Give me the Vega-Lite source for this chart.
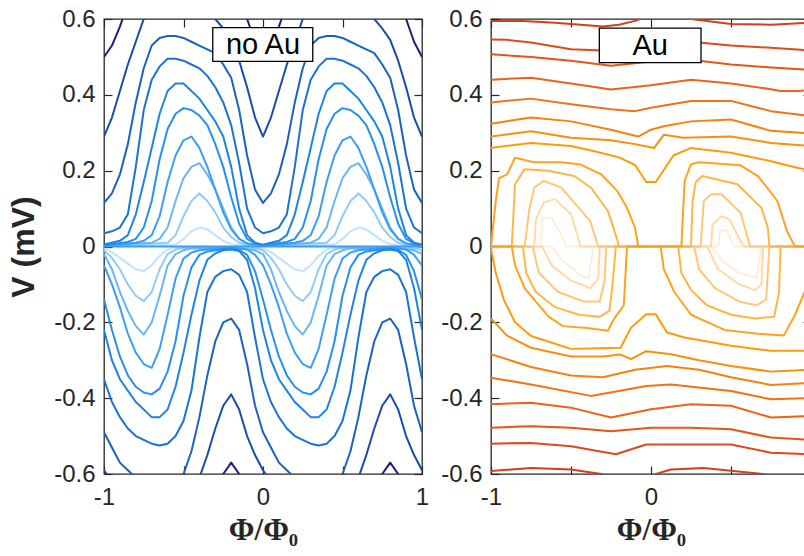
{
"$schema":"https://vega.github.io/schema/vega-lite/v6.json",
"background":"white",
"padding":{"left":6,"top":6,"right":0,"bottom":0},
"config":{"view":{"stroke":"#262626","strokeWidth":1.3},
"axis":{"grid":false,"domain":false,"labelFont":"Liberation Sans","labelFontSize":24,"labelColor":"#262626","tickColor":"#262626","tickSize":-8,"tickWidth":1.2,"titleFont":"Liberation Sans","titleFontWeight":"bold","titleColor":"#262626","labelFlush":false},
"axisX":{"labelPadding":19},"axisY":{"labelPadding":17}},
"datasets":{
"n":[
{"c":"J","x":-1,"y":0.001},{"c":"J","x":-0.55,"y":0.005},{"c":"J","x":-0.5,"y":0.02},{"c":"J","x":-0.45,"y":0.04},{"c":"J","x":-0.4,"y":0.05},{"c":"J","x":-0.35,"y":0.045},{"c":"J","x":-0.3,"y":0.03},{"c":"J","x":-0.25,"y":0.015},{"c":"J","x":-0.2,"y":0.006},{"c":"J","x":-0.15,"y":0.003},{"c":"J","x":0,"y":0.001},{"c":"J","x":0.45,"y":0.005},{"c":"J","x":0.5,"y":0.02},{"c":"J","x":0.55,"y":0.04},{"c":"J","x":0.6,"y":0.05},{"c":"J","x":0.65,"y":0.045},{"c":"J","x":0.7,"y":0.03},{"c":"J","x":0.75,"y":0.015},{"c":"J","x":0.8,"y":0.006},{"c":"J","x":0.85,"y":0.003},{"c":"J","x":1,"y":0.001},
{"c":"J2","x":-1,"y":-0.005},{"c":"J2","x":-0.95,"y":-0.015},{"c":"J2","x":-0.9,"y":-0.03},{"c":"J2","x":-0.85,"y":-0.045},{"c":"J2","x":-0.8,"y":-0.06},{"c":"J2","x":-0.75,"y":-0.065},{"c":"J2","x":-0.7,"y":-0.05},{"c":"J2","x":-0.65,"y":-0.025},{"c":"J2","x":-0.6,"y":-0.008},{"c":"J2","x":-0.55,"y":-0.003},{"c":"J2","x":-0.05,"y":-0.003},{"c":"J2","x":0,"y":-0.005},{"c":"J2","x":0.05,"y":-0.015},{"c":"J2","x":0.1,"y":-0.03},{"c":"J2","x":0.15,"y":-0.045},{"c":"J2","x":0.2,"y":-0.06},{"c":"J2","x":0.25,"y":-0.065},{"c":"J2","x":0.3,"y":-0.05},{"c":"J2","x":0.35,"y":-0.025},{"c":"J2","x":0.4,"y":-0.008},{"c":"J2","x":0.45,"y":-0.003},{"c":"J2","x":0.95,"y":-0.003},{"c":"J2","x":1,"y":-0.005},
{"c":"I","x":-1,"y":0.001},{"c":"I","x":-0.6,"y":0.01},{"c":"I","x":-0.55,"y":0.03},{"c":"I","x":-0.5,"y":0.08},{"c":"I","x":-0.45,"y":0.12},{"c":"I","x":-0.4,"y":0.14},{"c":"I","x":-0.35,"y":0.12},{"c":"I","x":-0.3,"y":0.09},{"c":"I","x":-0.25,"y":0.05},{"c":"I","x":-0.2,"y":0.025},{"c":"I","x":-0.15,"y":0.01},{"c":"I","x":-0.1,"y":0.004},{"c":"I","x":0,"y":0.001},{"c":"I","x":0.4,"y":0.01},{"c":"I","x":0.45,"y":0.03},{"c":"I","x":0.5,"y":0.08},{"c":"I","x":0.55,"y":0.12},{"c":"I","x":0.6,"y":0.14},{"c":"I","x":0.65,"y":0.12},{"c":"I","x":0.7,"y":0.09},{"c":"I","x":0.75,"y":0.05},{"c":"I","x":0.8,"y":0.025},{"c":"I","x":0.85,"y":0.01},{"c":"I","x":0.9,"y":0.004},{"c":"I","x":1,"y":0.001},
{"c":"I2","x":-1,"y":-0.01},{"c":"I2","x":-0.95,"y":-0.03},{"c":"I2","x":-0.9,"y":-0.06},{"c":"I2","x":-0.85,"y":-0.1},{"c":"I2","x":-0.8,"y":-0.13},{"c":"I2","x":-0.75,"y":-0.144},{"c":"I2","x":-0.7,"y":-0.12},{"c":"I2","x":-0.65,"y":-0.06},{"c":"I2","x":-0.6,"y":-0.02},{"c":"I2","x":-0.55,"y":-0.008},{"c":"I2","x":-0.5,"y":-0.004},{"c":"I2","x":-0.05,"y":-0.005},{"c":"I2","x":0,"y":-0.01},{"c":"I2","x":0.05,"y":-0.03},{"c":"I2","x":0.1,"y":-0.06},{"c":"I2","x":0.15,"y":-0.1},{"c":"I2","x":0.2,"y":-0.13},{"c":"I2","x":0.25,"y":-0.144},{"c":"I2","x":0.3,"y":-0.12},{"c":"I2","x":0.35,"y":-0.06},{"c":"I2","x":0.4,"y":-0.02},{"c":"I2","x":0.45,"y":-0.008},{"c":"I2","x":0.5,"y":-0.004},{"c":"I2","x":0.95,"y":-0.005},{"c":"I2","x":1,"y":-0.01},
{"c":"H","x":-1,"y":0.002},{"c":"H","x":-0.7,"y":0.01},{"c":"H","x":-0.65,"y":0.02},{"c":"H","x":-0.6,"y":0.05},{"c":"H","x":-0.55,"y":0.12},{"c":"H","x":-0.5,"y":0.18},{"c":"H","x":-0.45,"y":0.21},{"c":"H","x":-0.4,"y":0.22},{"c":"H","x":-0.35,"y":0.19},{"c":"H","x":-0.3,"y":0.15},{"c":"H","x":-0.25,"y":0.1},{"c":"H","x":-0.2,"y":0.05},{"c":"H","x":-0.15,"y":0.02},{"c":"H","x":-0.1,"y":0.008},{"c":"H","x":0,"y":0.002},{"c":"H","x":0.3,"y":0.01},{"c":"H","x":0.35,"y":0.02},{"c":"H","x":0.4,"y":0.05},{"c":"H","x":0.45,"y":0.12},{"c":"H","x":0.5,"y":0.18},{"c":"H","x":0.55,"y":0.21},{"c":"H","x":0.6,"y":0.22},{"c":"H","x":0.65,"y":0.19},{"c":"H","x":0.7,"y":0.15},{"c":"H","x":0.75,"y":0.1},{"c":"H","x":0.8,"y":0.05},{"c":"H","x":0.85,"y":0.02},{"c":"H","x":0.9,"y":0.008},{"c":"H","x":1,"y":0.002},
{"c":"H2","x":-1,"y":-0.02},{"c":"H2","x":-0.95,"y":-0.06},{"c":"H2","x":-0.9,"y":-0.12},{"c":"H2","x":-0.85,"y":-0.17},{"c":"H2","x":-0.8,"y":-0.21},{"c":"H2","x":-0.75,"y":-0.232},{"c":"H2","x":-0.7,"y":-0.2},{"c":"H2","x":-0.65,"y":-0.13},{"c":"H2","x":-0.6,"y":-0.05},{"c":"H2","x":-0.55,"y":-0.02},{"c":"H2","x":-0.5,"y":-0.01},{"c":"H2","x":-0.45,"y":-0.005},{"c":"H2","x":-0.2,"y":-0.003},{"c":"H2","x":-0.05,"y":-0.01},{"c":"H2","x":0,"y":-0.02},{"c":"H2","x":0.05,"y":-0.06},{"c":"H2","x":0.1,"y":-0.12},{"c":"H2","x":0.15,"y":-0.17},{"c":"H2","x":0.2,"y":-0.21},{"c":"H2","x":0.25,"y":-0.232},{"c":"H2","x":0.3,"y":-0.2},{"c":"H2","x":0.35,"y":-0.13},{"c":"H2","x":0.4,"y":-0.05},{"c":"H2","x":0.45,"y":-0.02},{"c":"H2","x":0.5,"y":-0.01},{"c":"H2","x":0.55,"y":-0.005},{"c":"H2","x":0.8,"y":-0.003},{"c":"H2","x":0.95,"y":-0.01},{"c":"H2","x":1,"y":-0.02},
{"c":"G","x":-1,"y":0.002},{"c":"G","x":-0.8,"y":0.01},{"c":"G","x":-0.75,"y":0.015},{"c":"G","x":-0.7,"y":0.03},{"c":"G","x":-0.65,"y":0.08},{"c":"G","x":-0.6,"y":0.17},{"c":"G","x":-0.55,"y":0.24},{"c":"G","x":-0.5,"y":0.28},{"c":"G","x":-0.45,"y":0.29},{"c":"G","x":-0.4,"y":0.26},{"c":"G","x":-0.35,"y":0.21},{"c":"G","x":-0.3,"y":0.15},{"c":"G","x":-0.25,"y":0.09},{"c":"G","x":-0.2,"y":0.045},{"c":"G","x":-0.15,"y":0.02},{"c":"G","x":-0.1,"y":0.008},{"c":"G","x":0,"y":0.002},{"c":"G","x":0.2,"y":0.01},{"c":"G","x":0.25,"y":0.015},{"c":"G","x":0.3,"y":0.03},{"c":"G","x":0.35,"y":0.08},{"c":"G","x":0.4,"y":0.17},{"c":"G","x":0.45,"y":0.24},{"c":"G","x":0.5,"y":0.28},{"c":"G","x":0.55,"y":0.29},{"c":"G","x":0.6,"y":0.26},{"c":"G","x":0.65,"y":0.21},{"c":"G","x":0.7,"y":0.15},{"c":"G","x":0.75,"y":0.09},{"c":"G","x":0.8,"y":0.045},{"c":"G","x":0.85,"y":0.02},{"c":"G","x":0.9,"y":0.008},{"c":"G","x":1,"y":0.002},
{"c":"G2","x":-1,"y":-0.05},{"c":"G2","x":-0.95,"y":-0.1},{"c":"G2","x":-0.9,"y":-0.16},{"c":"G2","x":-0.85,"y":-0.23},{"c":"G2","x":-0.8,"y":-0.28},{"c":"G2","x":-0.75,"y":-0.31},{"c":"G2","x":-0.7,"y":-0.32},{"c":"G2","x":-0.65,"y":-0.27},{"c":"G2","x":-0.6,"y":-0.18},{"c":"G2","x":-0.55,"y":-0.085},{"c":"G2","x":-0.5,"y":-0.032},{"c":"G2","x":-0.45,"y":-0.016},{"c":"G2","x":-0.4,"y":-0.01},{"c":"G2","x":-0.2,"y":-0.002},{"c":"G2","x":-0.1,"y":-0.008},{"c":"G2","x":-0.05,"y":-0.022},{"c":"G2","x":0,"y":-0.05},{"c":"G2","x":0.05,"y":-0.1},{"c":"G2","x":0.1,"y":-0.16},{"c":"G2","x":0.15,"y":-0.23},{"c":"G2","x":0.2,"y":-0.28},{"c":"G2","x":0.25,"y":-0.31},{"c":"G2","x":0.3,"y":-0.32},{"c":"G2","x":0.35,"y":-0.27},{"c":"G2","x":0.4,"y":-0.18},{"c":"G2","x":0.45,"y":-0.085},{"c":"G2","x":0.5,"y":-0.032},{"c":"G2","x":0.55,"y":-0.016},{"c":"G2","x":0.6,"y":-0.01},{"c":"G2","x":0.8,"y":-0.002},{"c":"G2","x":0.9,"y":-0.008},{"c":"G2","x":0.95,"y":-0.022},{"c":"G2","x":1,"y":-0.05},
{"c":"F","x":-1,"y":0.003},{"c":"F","x":-0.85,"y":0.012},{"c":"F","x":-0.8,"y":0.02},{"c":"F","x":-0.75,"y":0.05},{"c":"F","x":-0.7,"y":0.12},{"c":"F","x":-0.65,"y":0.23},{"c":"F","x":-0.6,"y":0.31},{"c":"F","x":-0.55,"y":0.35},{"c":"F","x":-0.5,"y":0.365},{"c":"F","x":-0.45,"y":0.36},{"c":"F","x":-0.4,"y":0.345},{"c":"F","x":-0.35,"y":0.32},{"c":"F","x":-0.3,"y":0.27},{"c":"F","x":-0.25,"y":0.21},{"c":"F","x":-0.2,"y":0.13},{"c":"F","x":-0.15,"y":0.06},{"c":"F","x":-0.1,"y":0.02},{"c":"F","x":-0.05,"y":0.008},{"c":"F","x":0,"y":0.003},{"c":"F","x":0.15,"y":0.012},{"c":"F","x":0.2,"y":0.02},{"c":"F","x":0.25,"y":0.05},{"c":"F","x":0.3,"y":0.12},{"c":"F","x":0.35,"y":0.23},{"c":"F","x":0.4,"y":0.31},{"c":"F","x":0.45,"y":0.35},{"c":"F","x":0.5,"y":0.365},{"c":"F","x":0.55,"y":0.36},{"c":"F","x":0.6,"y":0.345},{"c":"F","x":0.65,"y":0.32},{"c":"F","x":0.7,"y":0.27},{"c":"F","x":0.75,"y":0.21},{"c":"F","x":0.8,"y":0.13},{"c":"F","x":0.85,"y":0.06},{"c":"F","x":0.9,"y":0.02},{"c":"F","x":0.95,"y":0.008},{"c":"F","x":1,"y":0.003},
{"c":"F2","x":-1,"y":-0.14},{"c":"F2","x":-0.95,"y":-0.22},{"c":"F2","x":-0.9,"y":-0.29},{"c":"F2","x":-0.85,"y":-0.34},{"c":"F2","x":-0.8,"y":-0.37},{"c":"F2","x":-0.75,"y":-0.385},{"c":"F2","x":-0.7,"y":-0.39},{"c":"F2","x":-0.65,"y":-0.375},{"c":"F2","x":-0.6,"y":-0.33},{"c":"F2","x":-0.55,"y":-0.25},{"c":"F2","x":-0.5,"y":-0.13},{"c":"F2","x":-0.45,"y":-0.055},{"c":"F2","x":-0.4,"y":-0.022},{"c":"F2","x":-0.35,"y":-0.013},{"c":"F2","x":-0.2,"y":-0.004},{"c":"F2","x":-0.15,"y":-0.009},{"c":"F2","x":-0.1,"y":-0.022},{"c":"F2","x":-0.05,"y":-0.065},{"c":"F2","x":0,"y":-0.14},{"c":"F2","x":0.05,"y":-0.22},{"c":"F2","x":0.1,"y":-0.29},{"c":"F2","x":0.15,"y":-0.34},{"c":"F2","x":0.2,"y":-0.37},{"c":"F2","x":0.25,"y":-0.385},{"c":"F2","x":0.3,"y":-0.39},{"c":"F2","x":0.35,"y":-0.375},{"c":"F2","x":0.4,"y":-0.33},{"c":"F2","x":0.45,"y":-0.25},{"c":"F2","x":0.5,"y":-0.13},{"c":"F2","x":0.55,"y":-0.055},{"c":"F2","x":0.6,"y":-0.022},{"c":"F2","x":0.65,"y":-0.013},{"c":"F2","x":0.8,"y":-0.004},{"c":"F2","x":0.85,"y":-0.009},{"c":"F2","x":0.9,"y":-0.022},{"c":"F2","x":0.95,"y":-0.065},{"c":"F2","x":1,"y":-0.14},
{"c":"E","x":-1,"y":0.005},{"c":"E","x":-0.9,"y":0.015},{"c":"E","x":-0.85,"y":0.03},{"c":"E","x":-0.8,"y":0.085},{"c":"E","x":-0.75,"y":0.17},{"c":"E","x":-0.7,"y":0.26},{"c":"E","x":-0.65,"y":0.35},{"c":"E","x":-0.6,"y":0.41},{"c":"E","x":-0.55,"y":0.43},{"c":"E","x":-0.5,"y":0.43},{"c":"E","x":-0.45,"y":0.41},{"c":"E","x":-0.4,"y":0.39},{"c":"E","x":-0.35,"y":0.36},{"c":"E","x":-0.3,"y":0.33},{"c":"E","x":-0.25,"y":0.29},{"c":"E","x":-0.2,"y":0.21},{"c":"E","x":-0.15,"y":0.1},{"c":"E","x":-0.1,"y":0.03},{"c":"E","x":-0.05,"y":0.01},{"c":"E","x":0,"y":0.005},{"c":"E","x":0.1,"y":0.015},{"c":"E","x":0.15,"y":0.03},{"c":"E","x":0.2,"y":0.085},{"c":"E","x":0.25,"y":0.17},{"c":"E","x":0.3,"y":0.26},{"c":"E","x":0.35,"y":0.35},{"c":"E","x":0.4,"y":0.41},{"c":"E","x":0.45,"y":0.43},{"c":"E","x":0.5,"y":0.43},{"c":"E","x":0.55,"y":0.41},{"c":"E","x":0.6,"y":0.39},{"c":"E","x":0.65,"y":0.36},{"c":"E","x":0.7,"y":0.33},{"c":"E","x":0.75,"y":0.29},{"c":"E","x":0.8,"y":0.21},{"c":"E","x":0.85,"y":0.1},{"c":"E","x":0.9,"y":0.03},{"c":"E","x":0.95,"y":0.01},{"c":"E","x":1,"y":0.005},
{"c":"E2","x":-1,"y":-0.22},{"c":"E2","x":-0.95,"y":-0.3},{"c":"E2","x":-0.9,"y":-0.35},{"c":"E2","x":-0.85,"y":-0.38},{"c":"E2","x":-0.8,"y":-0.41},{"c":"E2","x":-0.75,"y":-0.43},{"c":"E2","x":-0.7,"y":-0.45},{"c":"E2","x":-0.65,"y":-0.45},{"c":"E2","x":-0.6,"y":-0.43},{"c":"E2","x":-0.55,"y":-0.37},{"c":"E2","x":-0.5,"y":-0.28},{"c":"E2","x":-0.45,"y":-0.18},{"c":"E2","x":-0.4,"y":-0.09},{"c":"E2","x":-0.35,"y":-0.035},{"c":"E2","x":-0.3,"y":-0.018},{"c":"E2","x":-0.25,"y":-0.01},{"c":"E2","x":-0.2,"y":-0.008},{"c":"E2","x":-0.15,"y":-0.012},{"c":"E2","x":-0.1,"y":-0.035},{"c":"E2","x":-0.05,"y":-0.11},{"c":"E2","x":0,"y":-0.22},{"c":"E2","x":0.05,"y":-0.3},{"c":"E2","x":0.1,"y":-0.35},{"c":"E2","x":0.15,"y":-0.38},{"c":"E2","x":0.2,"y":-0.41},{"c":"E2","x":0.25,"y":-0.43},{"c":"E2","x":0.3,"y":-0.45},{"c":"E2","x":0.35,"y":-0.45},{"c":"E2","x":0.4,"y":-0.43},{"c":"E2","x":0.45,"y":-0.37},{"c":"E2","x":0.5,"y":-0.28},{"c":"E2","x":0.55,"y":-0.18},{"c":"E2","x":0.6,"y":-0.09},{"c":"E2","x":0.65,"y":-0.035},{"c":"E2","x":0.7,"y":-0.018},{"c":"E2","x":0.75,"y":-0.01},{"c":"E2","x":0.8,"y":-0.008},{"c":"E2","x":0.85,"y":-0.012},{"c":"E2","x":0.9,"y":-0.035},{"c":"E2","x":0.95,"y":-0.11},{"c":"E2","x":1,"y":-0.22},
{"c":"D","x":-1,"y":0.035},{"c":"D","x":-0.95,"y":0.04},{"c":"D","x":-0.9,"y":0.05},{"c":"D","x":-0.85,"y":0.085},{"c":"D","x":-0.8,"y":0.21},{"c":"D","x":-0.75,"y":0.36},{"c":"D","x":-0.7,"y":0.44},{"c":"D","x":-0.65,"y":0.475},{"c":"D","x":-0.6,"y":0.495},{"c":"D","x":-0.55,"y":0.495},{"c":"D","x":-0.5,"y":0.49},{"c":"D","x":-0.45,"y":0.48},{"c":"D","x":-0.4,"y":0.47},{"c":"D","x":-0.35,"y":0.45},{"c":"D","x":-0.3,"y":0.42},{"c":"D","x":-0.25,"y":0.38},{"c":"D","x":-0.2,"y":0.32},{"c":"D","x":-0.15,"y":0.22},{"c":"D","x":-0.1,"y":0.1},{"c":"D","x":-0.05,"y":0.05},{"c":"D","x":0,"y":0.035},{"c":"D","x":0.05,"y":0.04},{"c":"D","x":0.1,"y":0.05},{"c":"D","x":0.15,"y":0.085},{"c":"D","x":0.2,"y":0.21},{"c":"D","x":0.25,"y":0.36},{"c":"D","x":0.3,"y":0.44},{"c":"D","x":0.35,"y":0.475},{"c":"D","x":0.4,"y":0.495},{"c":"D","x":0.45,"y":0.495},{"c":"D","x":0.5,"y":0.49},{"c":"D","x":0.55,"y":0.48},{"c":"D","x":0.6,"y":0.47},{"c":"D","x":0.65,"y":0.45},{"c":"D","x":0.7,"y":0.42},{"c":"D","x":0.75,"y":0.38},{"c":"D","x":0.8,"y":0.32},{"c":"D","x":0.85,"y":0.22},{"c":"D","x":0.9,"y":0.1},{"c":"D","x":0.95,"y":0.05},{"c":"D","x":1,"y":0.035},
{"c":"D2","x":-1,"y":-0.35},{"c":"D2","x":-0.95,"y":-0.41},{"c":"D2","x":-0.9,"y":-0.45},{"c":"D2","x":-0.85,"y":-0.48},{"c":"D2","x":-0.8,"y":-0.5},{"c":"D2","x":-0.75,"y":-0.51},{"c":"D2","x":-0.7,"y":-0.52},{"c":"D2","x":-0.65,"y":-0.525},{"c":"D2","x":-0.6,"y":-0.52},{"c":"D2","x":-0.55,"y":-0.5},{"c":"D2","x":-0.5,"y":-0.46},{"c":"D2","x":-0.45,"y":-0.38},{"c":"D2","x":-0.4,"y":-0.24},{"c":"D2","x":-0.35,"y":-0.12},{"c":"D2","x":-0.3,"y":-0.08},{"c":"D2","x":-0.25,"y":-0.065},{"c":"D2","x":-0.2,"y":-0.06},{"c":"D2","x":-0.15,"y":-0.075},{"c":"D2","x":-0.1,"y":-0.12},{"c":"D2","x":-0.05,"y":-0.24},{"c":"D2","x":0,"y":-0.35},{"c":"D2","x":0.05,"y":-0.41},{"c":"D2","x":0.1,"y":-0.45},{"c":"D2","x":0.15,"y":-0.48},{"c":"D2","x":0.2,"y":-0.5},{"c":"D2","x":0.25,"y":-0.51},{"c":"D2","x":0.3,"y":-0.52},{"c":"D2","x":0.35,"y":-0.525},{"c":"D2","x":0.4,"y":-0.52},{"c":"D2","x":0.45,"y":-0.5},{"c":"D2","x":0.5,"y":-0.46},{"c":"D2","x":0.55,"y":-0.38},{"c":"D2","x":0.6,"y":-0.24},{"c":"D2","x":0.65,"y":-0.12},{"c":"D2","x":0.7,"y":-0.08},{"c":"D2","x":0.75,"y":-0.065},{"c":"D2","x":0.8,"y":-0.06},{"c":"D2","x":0.85,"y":-0.075},{"c":"D2","x":0.9,"y":-0.12},{"c":"D2","x":0.95,"y":-0.24},{"c":"D2","x":1,"y":-0.35},
{"c":"C","x":-1,"y":0.115},{"c":"C","x":-0.95,"y":0.14},{"c":"C","x":-0.9,"y":0.19},{"c":"C","x":-0.85,"y":0.27},{"c":"C","x":-0.8,"y":0.38},{"c":"C","x":-0.75,"y":0.47},{"c":"C","x":-0.7,"y":0.53},{"c":"C","x":-0.65,"y":0.55},{"c":"C","x":-0.6,"y":0.555},{"c":"C","x":-0.55,"y":0.555},{"c":"C","x":-0.5,"y":0.55},{"c":"C","x":-0.45,"y":0.54},{"c":"C","x":-0.4,"y":0.53},{"c":"C","x":-0.35,"y":0.52},{"c":"C","x":-0.3,"y":0.51},{"c":"C","x":-0.25,"y":0.48},{"c":"C","x":-0.2,"y":0.445},{"c":"C","x":-0.15,"y":0.36},{"c":"C","x":-0.1,"y":0.24},{"c":"C","x":-0.05,"y":0.15},{"c":"C","x":0,"y":0.115},{"c":"C","x":0.05,"y":0.14},{"c":"C","x":0.1,"y":0.19},{"c":"C","x":0.15,"y":0.27},{"c":"C","x":0.2,"y":0.38},{"c":"C","x":0.25,"y":0.47},{"c":"C","x":0.3,"y":0.53},{"c":"C","x":0.35,"y":0.55},{"c":"C","x":0.4,"y":0.555},{"c":"C","x":0.45,"y":0.555},{"c":"C","x":0.5,"y":0.55},{"c":"C","x":0.55,"y":0.54},{"c":"C","x":0.6,"y":0.53},{"c":"C","x":0.65,"y":0.52},{"c":"C","x":0.7,"y":0.51},{"c":"C","x":0.75,"y":0.48},{"c":"C","x":0.8,"y":0.445},{"c":"C","x":0.85,"y":0.36},{"c":"C","x":0.9,"y":0.24},{"c":"C","x":0.95,"y":0.15},{"c":"C","x":1,"y":0.115},
{"c":"C2","x":-1,"y":-0.49},{"c":"C2","x":-0.95,"y":-0.53},{"c":"C2","x":-0.9,"y":-0.57},{"c":"C2","x":-0.85,"y":-0.59},{"c":"C2","x":-0.8,"y":-0.61},{"c":"C2","x":-0.65,"y":-0.63},{"c":"C2","x":-0.5,"y":-0.6},{"c":"C2","x":-0.45,"y":-0.54},{"c":"C2","x":-0.4,"y":-0.45},{"c":"C2","x":-0.35,"y":-0.34},{"c":"C2","x":-0.3,"y":-0.25},{"c":"C2","x":-0.25,"y":-0.2},{"c":"C2","x":-0.2,"y":-0.19},{"c":"C2","x":-0.15,"y":-0.22},{"c":"C2","x":-0.1,"y":-0.31},{"c":"C2","x":-0.05,"y":-0.42},{"c":"C2","x":0,"y":-0.49},{"c":"C2","x":0.05,"y":-0.53},{"c":"C2","x":0.1,"y":-0.57},{"c":"C2","x":0.15,"y":-0.59},{"c":"C2","x":0.2,"y":-0.61},{"c":"C2","x":0.35,"y":-0.63},{"c":"C2","x":0.5,"y":-0.6},{"c":"C2","x":0.55,"y":-0.54},{"c":"C2","x":0.6,"y":-0.45},{"c":"C2","x":0.65,"y":-0.34},{"c":"C2","x":0.7,"y":-0.25},{"c":"C2","x":0.75,"y":-0.2},{"c":"C2","x":0.8,"y":-0.19},{"c":"C2","x":0.85,"y":-0.22},{"c":"C2","x":0.9,"y":-0.31},{"c":"C2","x":0.95,"y":-0.42},{"c":"C2","x":1,"y":-0.49},
{"c":"B","x":-1,"y":0.29},{"c":"B","x":-0.95,"y":0.34},{"c":"B","x":-0.9,"y":0.41},{"c":"B","x":-0.85,"y":0.48},{"c":"B","x":-0.8,"y":0.54},{"c":"B","x":-0.75,"y":0.6},{"c":"B","x":-0.7,"y":0.64},{"c":"B","x":-0.5,"y":0.67},{"c":"B","x":-0.35,"y":0.62},{"c":"B","x":-0.3,"y":0.6},{"c":"B","x":-0.25,"y":0.575},{"c":"B","x":-0.2,"y":0.545},{"c":"B","x":-0.15,"y":0.49},{"c":"B","x":-0.1,"y":0.42},{"c":"B","x":-0.05,"y":0.34},{"c":"B","x":0,"y":0.29},{"c":"B","x":0.05,"y":0.34},{"c":"B","x":0.1,"y":0.41},{"c":"B","x":0.15,"y":0.48},{"c":"B","x":0.2,"y":0.54},{"c":"B","x":0.25,"y":0.6},{"c":"B","x":0.3,"y":0.64},{"c":"B","x":0.5,"y":0.67},{"c":"B","x":0.65,"y":0.62},{"c":"B","x":0.7,"y":0.6},{"c":"B","x":0.75,"y":0.575},{"c":"B","x":0.8,"y":0.545},{"c":"B","x":0.85,"y":0.49},{"c":"B","x":0.9,"y":0.42},{"c":"B","x":0.95,"y":0.34},{"c":"B","x":1,"y":0.29},
{"c":"B2","x":-1,"y":-0.59},{"c":"B2","x":-0.95,"y":-0.62},{"c":"B2","x":-0.9,"y":-0.65},{"c":"B2","x":-0.75,"y":-0.7},{"c":"B2","x":-0.45,"y":-0.66},{"c":"B2","x":-0.4,"y":-0.61},{"c":"B2","x":-0.35,"y":-0.55},{"c":"B2","x":-0.3,"y":-0.48},{"c":"B2","x":-0.25,"y":-0.42},{"c":"B2","x":-0.2,"y":-0.39},{"c":"B2","x":-0.15,"y":-0.43},{"c":"B2","x":-0.1,"y":-0.5},{"c":"B2","x":-0.05,"y":-0.55},{"c":"B2","x":0,"y":-0.59},{"c":"B2","x":0.05,"y":-0.62},{"c":"B2","x":0.1,"y":-0.65},{"c":"B2","x":0.25,"y":-0.7},{"c":"B2","x":0.55,"y":-0.66},{"c":"B2","x":0.6,"y":-0.61},{"c":"B2","x":0.65,"y":-0.55},{"c":"B2","x":0.7,"y":-0.48},{"c":"B2","x":0.75,"y":-0.42},{"c":"B2","x":0.8,"y":-0.39},{"c":"B2","x":0.85,"y":-0.43},{"c":"B2","x":0.9,"y":-0.5},{"c":"B2","x":0.95,"y":-0.55},{"c":"B2","x":1,"y":-0.59},
{"c":"A","x":-1,"y":0.5},{"c":"A","x":-0.95,"y":0.53},{"c":"A","x":-0.9,"y":0.58},{"c":"A","x":-0.85,"y":0.64},{"c":"A","x":-0.8,"y":0.7},{"c":"A","x":-0.5,"y":0.8},{"c":"A","x":-0.2,"y":0.68},{"c":"A","x":-0.15,"y":0.64},{"c":"A","x":-0.1,"y":0.6},{"c":"A","x":-0.05,"y":0.54},{"c":"A","x":0,"y":0.5},{"c":"A","x":0.05,"y":0.53},{"c":"A","x":0.1,"y":0.58},{"c":"A","x":0.15,"y":0.64},{"c":"A","x":0.2,"y":0.7},{"c":"A","x":0.5,"y":0.8},{"c":"A","x":0.8,"y":0.68},{"c":"A","x":0.85,"y":0.64},{"c":"A","x":0.9,"y":0.6},{"c":"A","x":0.95,"y":0.54},{"c":"A","x":1,"y":0.5},
{"c":"A2","x":-1,"y":-0.74},{"c":"A2","x":-0.95,"y":-0.78},{"c":"A2","x":-0.45,"y":-0.8},{"c":"A2","x":-0.4,"y":-0.76},{"c":"A2","x":-0.35,"y":-0.7},{"c":"A2","x":-0.3,"y":-0.64},{"c":"A2","x":-0.25,"y":-0.6},{"c":"A2","x":-0.2,"y":-0.57},{"c":"A2","x":-0.15,"y":-0.6},{"c":"A2","x":-0.1,"y":-0.65},{"c":"A2","x":-0.05,"y":-0.7},{"c":"A2","x":0,"y":-0.74},{"c":"A2","x":0.05,"y":-0.78},{"c":"A2","x":0.55,"y":-0.8},{"c":"A2","x":0.6,"y":-0.76},{"c":"A2","x":0.65,"y":-0.7},{"c":"A2","x":0.7,"y":-0.64},{"c":"A2","x":0.75,"y":-0.6},{"c":"A2","x":0.8,"y":-0.57},{"c":"A2","x":0.85,"y":-0.6},{"c":"A2","x":0.9,"y":-0.65},{"c":"A2","x":0.95,"y":-0.7},{"c":"A2","x":1,"y":-0.74},
{"c":"Z","x":-1,"y":0},{"c":"Z","x":1,"y":0}
],
"a":[
{"c":"r1","x":-1,"y":0.595},{"c":"r1","x":-0.8,"y":0.595},{"c":"r1","x":-0.6,"y":0.59},{"c":"r1","x":-0.5,"y":0.587},{"c":"r1","x":-0.3,"y":0.58},{"c":"r1","x":-0.2,"y":0.585},{"c":"r1","x":-0.1,"y":0.595},{"c":"r1","x":0,"y":0.61},{"c":"r1","x":0.1,"y":0.62},{"c":"r1","x":0.25,"y":0.6},{"c":"r1","x":0.5,"y":0.587},{"c":"r1","x":0.75,"y":0.585},{"c":"r1","x":1,"y":0.59},
{"c":"s1","x":-1,"y":-0.592},{"c":"s1","x":-0.75,"y":-0.584},{"c":"s1","x":-0.5,"y":-0.588},{"c":"s1","x":-0.31,"y":-0.6},{"c":"s1","x":-0.2,"y":-0.62},{"c":"s1","x":-0.05,"y":-0.62},{"c":"s1","x":0.03,"y":-0.6},{"c":"s1","x":0.125,"y":-0.588},{"c":"s1","x":0.33,"y":-0.584},{"c":"s1","x":0.7,"y":-0.6},{"c":"s1","x":0.9,"y":-0.62},{"c":"s1","x":1,"y":-0.62},
{"c":"r2","x":-1,"y":0.546},{"c":"r2","x":-0.9,"y":0.545},{"c":"r2","x":-0.75,"y":0.538},{"c":"r2","x":-0.5,"y":0.52},{"c":"r2","x":-0.3,"y":0.517},{"c":"r2","x":-0.1,"y":0.525},{"c":"r2","x":0.1,"y":0.54},{"c":"r2","x":0.3,"y":0.538},{"c":"r2","x":0.5,"y":0.53},{"c":"r2","x":0.75,"y":0.524},{"c":"r2","x":1,"y":0.517},
{"c":"s2","x":-1,"y":-0.52},{"c":"s2","x":-0.75,"y":-0.518},{"c":"s2","x":-0.5,"y":-0.527},{"c":"s2","x":-0.22,"y":-0.548},{"c":"s2","x":-0.03,"y":-0.522},{"c":"s2","x":0.25,"y":-0.522},{"c":"s2","x":0.5,"y":-0.522},{"c":"s2","x":0.75,"y":-0.544},{"c":"s2","x":1,"y":-0.548},
{"c":"r3","x":-1,"y":0.507},{"c":"r3","x":-0.75,"y":0.5},{"c":"r3","x":-0.5,"y":0.49},{"c":"r3","x":-0.25,"y":0.477},{"c":"r3","x":0,"y":0.488},{"c":"r3","x":0.3,"y":0.49},{"c":"r3","x":0.5,"y":0.48},{"c":"r3","x":0.75,"y":0.472},{"c":"r3","x":1,"y":0.466},
{"c":"s3","x":-1,"y":-0.478},{"c":"s3","x":-0.75,"y":-0.474},{"c":"s3","x":-0.5,"y":-0.478},{"c":"s3","x":-0.25,"y":-0.487},{"c":"s3","x":0,"y":-0.478},{"c":"s3","x":0.25,"y":-0.478},{"c":"s3","x":0.5,"y":-0.482},{"c":"s3","x":0.75,"y":-0.504},{"c":"s3","x":1,"y":-0.51},
{"c":"r4","x":-1,"y":0.44},{"c":"r4","x":-0.75,"y":0.445},{"c":"r4","x":-0.5,"y":0.43},{"c":"r4","x":-0.25,"y":0.414},{"c":"r4","x":0,"y":0.425},{"c":"r4","x":0.25,"y":0.44},{"c":"r4","x":0.5,"y":0.43},{"c":"r4","x":0.75,"y":0.415},{"c":"r4","x":0.81,"y":0.41},{"c":"r4","x":0.92,"y":0.41},{"c":"r4","x":1,"y":0.413},
{"c":"s4","x":-1,"y":-0.416},{"c":"s4","x":-0.75,"y":-0.412},{"c":"s4","x":-0.5,"y":-0.425},{"c":"s4","x":-0.25,"y":-0.451},{"c":"s4","x":0,"y":-0.429},{"c":"s4","x":0.25,"y":-0.416},{"c":"s4","x":0.5,"y":-0.42},{"c":"s4","x":0.75,"y":-0.451},{"c":"s4","x":1,"y":-0.447},
{"c":"r5","x":-1,"y":0.38},{"c":"r5","x":-0.75,"y":0.39},{"c":"r5","x":-0.5,"y":0.375},{"c":"r5","x":-0.25,"y":0.362},{"c":"r5","x":-0.1,"y":0.357},{"c":"r5","x":0,"y":0.366},{"c":"r5","x":0.25,"y":0.384},{"c":"r5","x":0.5,"y":0.384},{"c":"r5","x":0.75,"y":0.357},{"c":"r5","x":1,"y":0.344},
{"c":"s5","x":-1,"y":-0.346},{"c":"s5","x":-0.75,"y":-0.364},{"c":"s5","x":-0.375,"y":-0.394},{"c":"s5","x":-0.03,"y":-0.368},{"c":"s5","x":0.125,"y":-0.364},{"c":"s5","x":0.5,"y":-0.381},{"c":"s5","x":0.75,"y":-0.403},{"c":"s5","x":1,"y":-0.4},
{"c":"r6","x":-1,"y":0.324},{"c":"r6","x":-0.75,"y":0.34},{"c":"r6","x":-0.5,"y":0.33},{"c":"r6","x":-0.25,"y":0.308},{"c":"r6","x":-0.08,"y":0.29},{"c":"r6","x":0,"y":0.308},{"c":"r6","x":0.08,"y":0.317},{"c":"r6","x":0.25,"y":0.33},{"c":"r6","x":0.5,"y":0.335},{"c":"r6","x":0.75,"y":0.305},{"c":"r6","x":1,"y":0.298},
{"c":"s6","x":-1,"y":-0.284},{"c":"s6","x":-0.75,"y":-0.318},{"c":"s6","x":-0.5,"y":-0.34},{"c":"s6","x":-0.3,"y":-0.345},{"c":"s6","x":-0.1,"y":-0.325},{"c":"s6","x":0.1,"y":-0.315},{"c":"s6","x":0.3,"y":-0.325},{"c":"s6","x":0.5,"y":-0.345},{"c":"s6","x":0.75,"y":-0.365},{"c":"s6","x":1,"y":-0.36},
{"c":"r7","x":-1,"y":0.29},{"c":"r7","x":-0.75,"y":0.304},{"c":"r7","x":-0.5,"y":0.287},{"c":"r7","x":-0.25,"y":0.28},{"c":"r7","x":-0.1,"y":0.27},{"c":"r7","x":0.02,"y":0.26},{"c":"r7","x":0.08,"y":0.295},{"c":"r7","x":0.2,"y":0.287},{"c":"r7","x":0.5,"y":0.29},{"c":"r7","x":0.75,"y":0.273},{"c":"r7","x":1,"y":0.265},
{"c":"s7","x":-1,"y":-0.19},{"c":"s7","x":-0.9,"y":-0.235},{"c":"s7","x":-0.75,"y":-0.267},{"c":"s7","x":-0.5,"y":-0.29},{"c":"s7","x":-0.3,"y":-0.29},{"c":"s7","x":-0.19,"y":-0.285},{"c":"s7","x":-0.125,"y":-0.297},{"c":"s7","x":-0.03,"y":-0.276},{"c":"s7","x":0.125,"y":-0.284},{"c":"s7","x":0.3,"y":-0.3},{"c":"s7","x":0.5,"y":-0.315},{"c":"s7","x":0.75,"y":-0.33},{"c":"s7","x":1,"y":-0.325},
{"c":"r8","x":-1,"y":0.26},{"c":"r8","x":-0.75,"y":0.273},{"c":"r8","x":-0.5,"y":0.265},{"c":"r8","x":-0.36,"y":0.252},{"c":"r8","x":-0.2,"y":0.235},{"c":"r8","x":-0.1,"y":0.215},{"c":"r8","x":-0.03,"y":0.17},{"c":"r8","x":0.03,"y":0.17},{"c":"r8","x":0.14,"y":0.24},{"c":"r8","x":0.25,"y":0.26},{"c":"r8","x":0.5,"y":0.247},{"c":"r8","x":0.75,"y":0.225},{"c":"r8","x":0.92,"y":0.207},{"c":"r8","x":1,"y":0.2},
{"c":"s8","x":-1,"y":-0.005},{"c":"s8","x":-0.97,"y":-0.07},{"c":"s8","x":-0.92,"y":-0.14},{"c":"s8","x":-0.85,"y":-0.2},{"c":"s8","x":-0.75,"y":-0.236},{"c":"s8","x":-0.5,"y":-0.27},{"c":"s8","x":-0.19,"y":-0.267},{"c":"s8","x":-0.125,"y":-0.214},{"c":"s8","x":-0.03,"y":-0.179},{"c":"s8","x":0.03,"y":-0.179},{"c":"s8","x":0.1,"y":-0.227},{"c":"s8","x":0.21,"y":-0.24},{"c":"s8","x":0.5,"y":-0.262},{"c":"s8","x":0.75,"y":-0.275},{"c":"s8","x":1,"y":-0.275},
{"c":"u4","x":-1,"y":0},{"c":"u4","x":-0.69,"y":0},{"c":"u4","x":-0.68,"y":0.075},{"c":"u4","x":-0.62,"y":0.075},{"c":"u4","x":-0.56,"y":0.03},{"c":"u4","x":-0.53,"y":0},{"c":"u4","x":0.42,"y":0},{"c":"u4","x":0.43,"y":0.04},{"c":"u4","x":0.47,"y":0.045},{"c":"u4","x":0.52,"y":0},{"c":"u4","x":1,"y":0},
{"c":"v4","x":-1,"y":0},{"c":"v4","x":-0.62,"y":0},{"c":"v4","x":-0.56,"y":-0.035},{"c":"v4","x":-0.44,"y":-0.075},{"c":"v4","x":-0.39,"y":-0.085},{"c":"v4","x":-0.36,"y":0},{"c":"v4","x":0.38,"y":0},{"c":"v4","x":0.45,"y":-0.04},{"c":"v4","x":0.55,"y":-0.07},{"c":"v4","x":0.66,"y":-0.082},{"c":"v4","x":0.69,"y":0},{"c":"v4","x":1,"y":0},
{"c":"u3","x":-1,"y":0},{"c":"u3","x":-0.73,"y":0},{"c":"u3","x":-0.72,"y":0.07},{"c":"u3","x":-0.67,"y":0.116},{"c":"u3","x":-0.6,"y":0.125},{"c":"u3","x":-0.5,"y":0.085},{"c":"u3","x":-0.44,"y":0},{"c":"u3","x":0.375,"y":0},{"c":"u3","x":0.385,"y":0.058},{"c":"u3","x":0.44,"y":0.08},{"c":"u3","x":0.49,"y":0.072},{"c":"u3","x":0.56,"y":0.014},{"c":"u3","x":0.58,"y":0},{"c":"u3","x":1,"y":0},
{"c":"v3","x":-1,"y":0},{"c":"v3","x":-0.68,"y":0},{"c":"v3","x":-0.62,"y":-0.05},{"c":"v3","x":-0.5,"y":-0.09},{"c":"v3","x":-0.38,"y":-0.11},{"c":"v3","x":-0.33,"y":-0.085},{"c":"v3","x":-0.32,"y":0},{"c":"v3","x":0.35,"y":0},{"c":"v3","x":0.42,"y":-0.06},{"c":"v3","x":0.55,"y":-0.1},{"c":"v3","x":0.65,"y":-0.115},{"c":"v3","x":0.69,"y":-0.1},{"c":"v3","x":0.7,"y":0},{"c":"v3","x":1,"y":0},
{"c":"u2","x":-1,"y":0},{"c":"u2","x":-0.79,"y":0},{"c":"u2","x":-0.76,"y":0.1},{"c":"u2","x":-0.73,"y":0.155},{"c":"u2","x":-0.67,"y":0.173},{"c":"u2","x":-0.56,"y":0.155},{"c":"u2","x":-0.46,"y":0.106},{"c":"u2","x":-0.38,"y":0.067},{"c":"u2","x":-0.33,"y":0},{"c":"u2","x":0.31,"y":0},{"c":"u2","x":0.33,"y":0.12},{"c":"u2","x":0.375,"y":0.138},{"c":"u2","x":0.44,"y":0.138},{"c":"u2","x":0.56,"y":0.089},{"c":"u2","x":0.62,"y":0},{"c":"u2","x":1,"y":0},
{"c":"v2","x":-1,"y":0},{"c":"v2","x":-0.74,"y":0},{"c":"v2","x":-0.7,"y":-0.07},{"c":"v2","x":-0.58,"y":-0.12},{"c":"v2","x":-0.42,"y":-0.145},{"c":"v2","x":-0.32,"y":-0.145},{"c":"v2","x":-0.29,"y":-0.09},{"c":"v2","x":-0.28,"y":0},{"c":"v2","x":0.27,"y":0},{"c":"v2","x":0.3,"y":-0.06},{"c":"v2","x":0.4,"y":-0.11},{"c":"v2","x":0.55,"y":-0.145},{"c":"v2","x":0.66,"y":-0.155},{"c":"v2","x":0.72,"y":-0.14},{"c":"v2","x":0.74,"y":0},{"c":"v2","x":1,"y":0},
{"c":"u1","x":-1,"y":0},{"c":"u1","x":-0.87,"y":0},{"c":"u1","x":-0.85,"y":0.164},{"c":"u1","x":-0.79,"y":0.204},{"c":"u1","x":-0.64,"y":0.2},{"c":"u1","x":-0.48,"y":0.186},{"c":"u1","x":-0.375,"y":0.155},{"c":"u1","x":-0.27,"y":0.094},{"c":"u1","x":-0.22,"y":0.03},{"c":"u1","x":-0.2,"y":0},{"c":"u1","x":0.25,"y":0},{"c":"u1","x":0.26,"y":0.12},{"c":"u1","x":0.28,"y":0.17},{"c":"u1","x":0.32,"y":0.186},{"c":"u1","x":0.54,"y":0.164},{"c":"u1","x":0.69,"y":0.102},{"c":"u1","x":0.73,"y":0.05},{"c":"u1","x":0.74,"y":0},{"c":"u1","x":1,"y":0},
{"c":"v1","x":-1,"y":0},{"c":"v1","x":-0.8,"y":0},{"c":"v1","x":-0.78,"y":-0.07},{"c":"v1","x":-0.72,"y":-0.12},{"c":"v1","x":-0.6,"y":-0.16},{"c":"v1","x":-0.45,"y":-0.18},{"c":"v1","x":-0.32,"y":-0.185},{"c":"v1","x":-0.26,"y":-0.17},{"c":"v1","x":-0.24,"y":-0.1},{"c":"v1","x":-0.22,"y":0},{"c":"v1","x":0.17,"y":0},{"c":"v1","x":0.19,"y":-0.07},{"c":"v1","x":0.25,"y":-0.115},{"c":"v1","x":0.35,"y":-0.155},{"c":"v1","x":0.5,"y":-0.18},{"c":"v1","x":0.65,"y":-0.19},{"c":"v1","x":0.77,"y":-0.185},{"c":"v1","x":0.8,"y":-0.12},{"c":"v1","x":0.81,"y":0},{"c":"v1","x":1,"y":0},
{"c":"T","x":-1,"y":0},{"c":"T","x":-0.97,"y":0.12},{"c":"T","x":-0.95,"y":0.18},{"c":"T","x":-0.9,"y":0.19},{"c":"T","x":-0.85,"y":0.234},{"c":"T","x":-0.73,"y":0.222},{"c":"T","x":-0.56,"y":0.222},{"c":"T","x":-0.44,"y":0.216},{"c":"T","x":-0.31,"y":0.19},{"c":"T","x":-0.21,"y":0.146},{"c":"T","x":-0.15,"y":0.102},{"c":"T","x":-0.1,"y":0.05},{"c":"T","x":-0.08,"y":0},{"c":"T","x":0.19,"y":0},{"c":"T","x":0.21,"y":0.173},{"c":"T","x":0.25,"y":0.217},{"c":"T","x":0.3,"y":0.222},{"c":"T","x":0.56,"y":0.214},{"c":"T","x":0.67,"y":0.185},{"c":"T","x":0.79,"y":0.12},{"c":"T","x":0.85,"y":0.04},{"c":"T","x":0.9,"y":0},{"c":"T","x":1,"y":0},
{"c":"T2","x":-1,"y":0},{"c":"T2","x":-0.87,"y":0},{"c":"T2","x":-0.85,"y":-0.05},{"c":"T2","x":-0.79,"y":-0.11},{"c":"T2","x":-0.73,"y":-0.14},{"c":"T2","x":-0.64,"y":-0.185},{"c":"T2","x":-0.55,"y":-0.21},{"c":"T2","x":-0.4,"y":-0.215},{"c":"T2","x":-0.27,"y":-0.222},{"c":"T2","x":-0.23,"y":-0.19},{"c":"T2","x":-0.17,"y":-0.155},{"c":"T2","x":-0.15,"y":0},{"c":"T2","x":0.06,"y":0},{"c":"T2","x":0.08,"y":-0.06},{"c":"T2","x":0.146,"y":-0.12},{"c":"T2","x":0.25,"y":-0.18},{"c":"T2","x":0.46,"y":-0.22},{"c":"T2","x":0.67,"y":-0.23},{"c":"T2","x":0.83,"y":-0.235},{"c":"T2","x":0.9,"y":-0.18},{"c":"T2","x":0.96,"y":-0.12},{"c":"T2","x":1,"y":-0.06}
],
"lab1":[{"x1":-0.316,"x2":0.313,"y1":0.488,"y2":0.577,"xt":0,"yt":0.532,"t":"no Au"}],
"lab2":[{"x1":-0.323,"x2":0.3125,"y1":0.485,"y2":0.576,"xt":-0.005,"yt":0.53,"t":"Au"}]
},
"spacing":9,
"resolve":{"scale":{"color":"independent","strokeWidth":"independent"}},
"hconcat":[
{"width":318,"height":455,
"resolve":{"axis":{"x":"independent","y":"independent"}},
"layer":[
{"data":{"name":"n"},"mark":{"type":"line","clip":true,"strokeJoin":"round"},
"encoding":{
"x":{"field":"x","type":"quantitative","scale":{"domain":[-1,1],"nice":false,"zero":false},"axis":{"orient":"bottom","values":[-1,-0.5,0,0.5,1],"labelExpr":"datum.value==0?'0':datum.value==1?'1':datum.value==-1?'-1':''","title":"Φ/Φ₀","titleFont":"Liberation Serif","titleFontSize":31,"titlePadding":6}},
"y":{"field":"y","type":"quantitative","scale":{"domain":[-0.6,0.6],"nice":false,"zero":false},"axis":{"orient":"left","values":[-0.6,-0.4,-0.2,0,0.2,0.4,0.6],"labelExpr":"datum.value==0?'0':datum.value<0?'-'+format(-datum.value,'.1f'):format(datum.value,'.1f')","title":"V (mV)","titleFontSize":32,"titlePadding":13}},
"color":{"field":"c","type":"nominal","legend":null,"scale":{"domain":["J","J2","I","I2","H","H2","G","G2","F","F2","E","E2","D","D2","C","C2","B","B2","A","A2","Z"],"range":["#c3e2fb","#c3e2fb","#92cbf8","#92cbf8","#66b6f6","#66b6f6","#3a9ff2","#3a9ff2","#2492ec","#2492ec","#1e84df","#1e84df","#1a73d0","#1a73d0","#1b62bf","#1b62bf","#1b4ba3","#1b4ba3","#1c1f80","#1c1f80","#3d9aee"]}},
"strokeWidth":{"field":"c","type":"nominal","legend":null,"scale":{"domain":["J","J2","I","I2","H","H2","G","G2","F","F2","E","E2","D","D2","C","C2","B","B2","A","A2","Z"],"range":[2,2,2,2,2,2,2,2,2,2,2,2,3.5,3.5,2,2,2,2,1.6,1.6,3]}}
}},
{"data":{"name":"lab1"},"mark":{"type":"rect","fill":"white","stroke":"black","strokeWidth":1.3},
"encoding":{"x":{"field":"x1","type":"quantitative","axis":{"orient":"top","values":[-1,-0.5,0,0.5,1],"labels":false,"title":null}},"x2":{"field":"x2"},
"y":{"field":"y1","type":"quantitative","axis":{"orient":"right","values":[-0.6,-0.4,-0.2,0,0.2,0.4,0.6],"labels":false,"title":null}},"y2":{"field":"y2"}}},
{"data":{"name":"lab1"},"mark":{"type":"text","font":"Liberation Sans","fontSize":29,"color":"black"},
"encoding":{"x":{"field":"xt","type":"quantitative","axis":null},"y":{"field":"yt","type":"quantitative","axis":null},"text":{"field":"t"}}}
]},
{"width":320,"height":455,
"resolve":{"axis":{"x":"independent","y":"independent"}},
"layer":[
{"data":{"name":"a"},"mark":{"type":"line","clip":true,"strokeJoin":"round"},
"encoding":{
"x":{"field":"x","type":"quantitative","scale":{"domain":[-1,1],"nice":false,"zero":false},"axis":{"orient":"bottom","values":[-1,-0.5,0,0.5,1],"labelExpr":"datum.value==0?'0':datum.value==1?'1':datum.value==-1?'-1':''","title":"Φ/Φ₀","titleFont":"Liberation Serif","titleFontSize":31,"titlePadding":6}},
"y":{"field":"y","type":"quantitative","scale":{"domain":[-0.6,0.6],"nice":false,"zero":false},"axis":{"orient":"left","values":[-0.6,-0.4,-0.2,0,0.2,0.4,0.6],"labelExpr":"datum.value==0?'0':datum.value<0?'-'+format(-datum.value,'.1f'):format(datum.value,'.1f')","title":null}},
"color":{"field":"c","type":"nominal","legend":null,"scale":{"domain":["r1","s1","r2","s2","r3","s3","r4","s4","r5","s5","r6","s6","r7","s7","r8","s8","u4","v4","u3","v3","u2","v2","u1","v1","T","T2"],"range":["#d23f1a","#d23f1a","#db4a18","#db4a18","#e35617","#e35617","#ea6415","#ea6415","#f07312","#f07312","#f5820f","#f5820f","#f9900c","#f9900c","#fc9c0a","#fc9c0a","#ffeedb","#ffeedb","#ffd9a6","#ffd9a6","#ffc777","#ffc777","#ffb547","#ffb547","#ffa31f","#ffa31f"]}},
"strokeWidth":{"field":"c","type":"nominal","legend":null,"scale":{"domain":["r1","s1","r2","s2","r3","s3","r4","s4","r5","s5","r6","s6","r7","s7","r8","s8","u4","v4","u3","v3","u2","v2","u1","v1","T","T2"],"range":[2,2,2,2,2,2,2,2,2,2,2,2,2,2,2,2,2.5,2.5,2.5,2.5,2.5,2.5,2.5,2.5,4,4]}}
}},
{"data":{"name":"lab2"},"mark":{"type":"rect","fill":"white","stroke":"black","strokeWidth":1.3},
"encoding":{"x":{"field":"x1","type":"quantitative","axis":{"orient":"top","values":[-1,-0.5,0,0.5,1],"labels":false,"title":null}},"x2":{"field":"x2"},
"y":{"field":"y1","type":"quantitative","axis":{"orient":"right","values":[-0.6,-0.4,-0.2,0,0.2,0.4,0.6],"labels":false,"title":null}},"y2":{"field":"y2"}}},
{"data":{"name":"lab2"},"mark":{"type":"text","font":"Liberation Sans","fontSize":29,"color":"black"},
"encoding":{"x":{"field":"xt","type":"quantitative","axis":null},"y":{"field":"yt","type":"quantitative","axis":null},"text":{"field":"t"}}}
]}
]
}
